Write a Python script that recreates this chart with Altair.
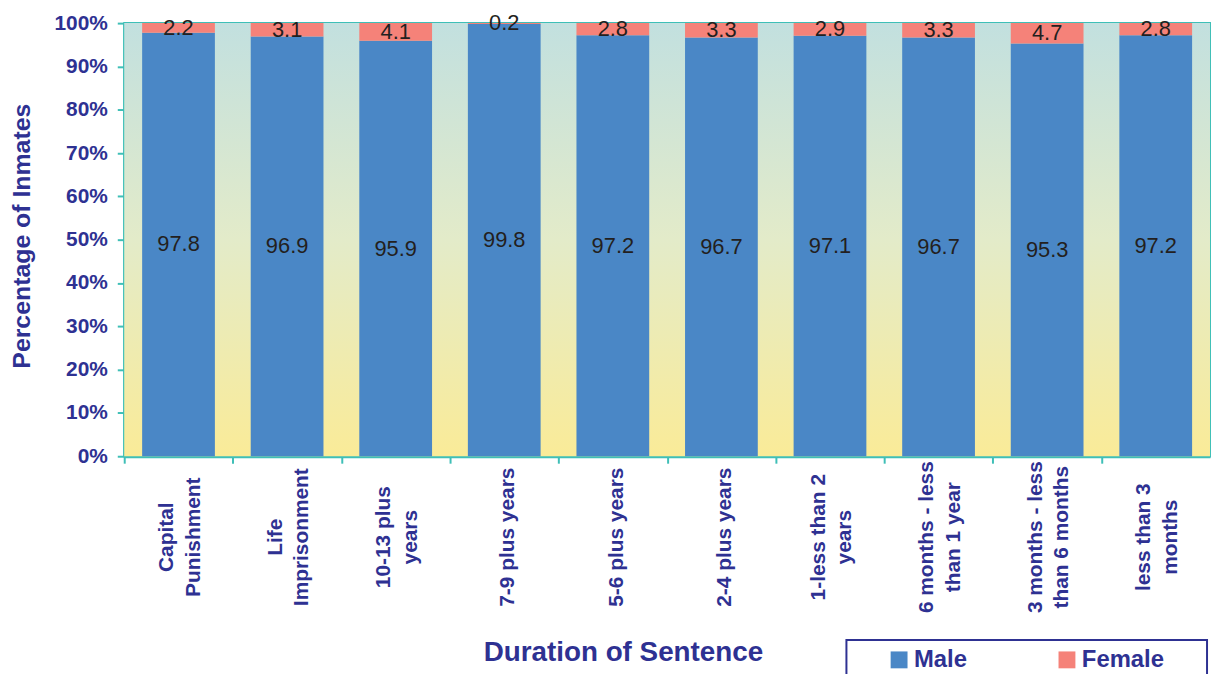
import altair as alt
import pandas as pd

categories = [
    "Capital|Punishment",
    "Life|Imprisonment",
    "10-13 plus|years",
    "7-9 plus years",
    "5-6 plus years",
    "2-4 plus years",
    "1-less than 2|years",
    "6 months - less|than 1 year",
    "3 months - less|than 6 months",
    "less than 3|months",
]
male = [97.8, 96.9, 95.9, 99.8, 97.2, 96.7, 97.1, 96.7, 95.3, 97.2]
female = [2.2, 3.1, 4.1, 0.2, 2.8, 3.3, 2.9, 3.3, 4.7, 2.8]
y_ticks = [0, 10, 20, 30, 40, 50, 60, 70, 80, 90, 100]

rows = []
for c, m, f in zip(categories, male, female):
    rows.append({"cat": c, "gender": "Male", "value": m, "ord": 0, "mid": m / 2})
    rows.append({"cat": c, "gender": "Female", "value": f, "ord": 1, "mid": m + f / 2})
df = pd.DataFrame(rows)

NAVY = "#2e3192"
TEAL = "#3fbfb7"
FONT = "Liberation Sans"
W, H = 1093, 436

gradient = alt.LinearGradient(
    gradient="linear",
    stops=[
        alt.GradientStop(color="#c2e0df", offset=0),
        alt.GradientStop(color="#e3ebc9", offset=0.5),
        alt.GradientStop(color="#faeb98", offset=1),
    ],
    x1=0, x2=0, y1=0, y2=1,
)

bg = alt.Chart(pd.DataFrame({"k": [0]})).mark_rect(color=gradient).encode(
    x=alt.value(0), x2=alt.value(W), y=alt.value(0), y2=alt.value(H)
)

xenc = alt.X(
    "cat:N",
    sort=categories,
    scale=alt.Scale(paddingInner=0.33, paddingOuter=0.165),
    axis=alt.Axis(
        title="Duration of Sentence",
        labelExpr="split(datum.label, '|')",
        labelAngle=-90,
        labelAlign="center",
        labelBaseline="middle",
        labelPadding=74,
        labelLineHeight=27,
        labelFont=FONT,
        labelFontSize=21,
        labelFontWeight="bold",
        labelColor=NAVY,
        labelOffset={
            "condition": {"test": "indexof(datum.label, '|') >= 0", "value": 6},
            "value": 21.5,
        },
        bandPosition=0,
        tickOffset=-18,
        tickColor=TEAL,
        tickSize=7,
        tickWidth=2,
        domainColor=TEAL,
        domainWidth=3,
        grid=False,
        titleFont=FONT,
        titleFontSize=28,
        titleFontWeight="bold",
        titleColor=NAVY,
        titleX=502,
        titleY=198,
        titleAlign="center",
        titleBaseline="middle",
    ),
)

yscale = alt.Scale(domain=[0, 100], nice=False)

bars = alt.Chart(df).mark_bar().encode(
    x=xenc,
    y=alt.Y(
        "value:Q",
        stack="zero",
        scale=yscale,
        axis=alt.Axis(
            title="Percentage of Inmates",
            values=y_ticks,
            labelExpr="datum.value + '%'",
            labelFont=FONT,
            labelFontSize=21,
            labelFontWeight="bold",
            labelColor=NAVY,
            labelPadding=10,
            tickColor=TEAL,
            tickSize=7,
            tickWidth=2,
            domainColor=TEAL,
            domainWidth=3,
            gridColor=TEAL,
            gridWidth=1.5,
            titleFont=FONT,
            titleFontSize=25,
            titleFontWeight="bold",
            titleColor=NAVY,
            titleX=-103,
            titleY=214,
            titleAngle=270,
            titleAlign="center",
            titleBaseline="middle",
        ),
    ),
    color=alt.Color(
        "gender:N",
        scale=alt.Scale(domain=["Male", "Female"], range=["#4a87c6", "#f58279"]),
        legend=alt.Legend(
            title=" ",
            titleOrient="right",
            titlePadding=35,
            orient="none",
            legendX=727,
            legendY=621,
            direction="horizontal",
            symbolType="square",
            symbolSize=289,
            symbolStrokeWidth=0,
            symbolOffset=33,
            labelOffset=3,
            labelFont=FONT,
            labelFontSize=24,
            labelFontWeight="bold",
            labelColor=NAVY,
            strokeColor=NAVY,
            padding=8,
            columnPadding=26,
            gridAlign="all",
        ),
    ),
    order=alt.Order("ord:Q"),
)

texts = alt.Chart(df).mark_text(
    font=FONT, fontSize=22, color="#231f20", baseline="middle", align="center"
).encode(
    x=alt.X("cat:N", sort=categories),
    y=alt.Y("mid:Q", scale=yscale),
    text=alt.Text("value:Q", format=".1f"),
)

chart = (
    alt.layer(bg, bars, texts)
    .properties(
        width=W,
        height=H,
        autosize=alt.AutoSizeParams(type="none"),
        padding={"left": 117, "top": 13, "right": 2, "bottom": 217},
        background="white",
    )
    .configure_view(stroke=TEAL, strokeWidth=2)
    .configure_legend(strokeWidth=2)
)

chart.save("out.html", embed_options={"renderer": "svg", "actions": False})
